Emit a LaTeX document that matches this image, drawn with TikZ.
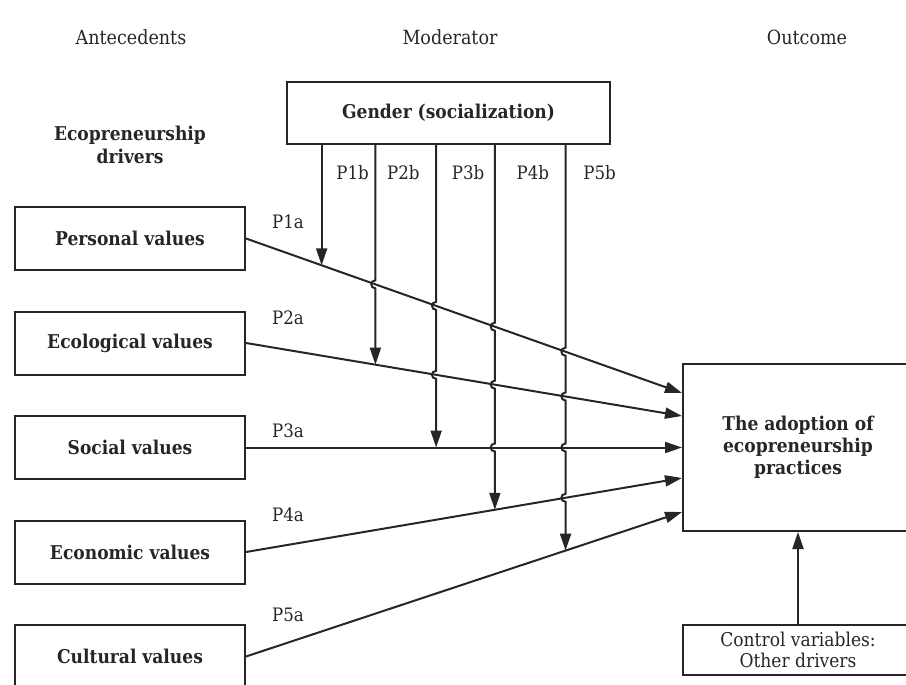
\documentclass[tikz,border=0pt]{standalone}
\usepackage{fontspec}
\setmainfont{DejaVu Serif Condensed}
\usetikzlibrary{positioning, arrows.meta, calc}

\begin{document}
\begin{tikzpicture}
    [
        x=1pt, y=-1pt, node distance=104.5pt and 22mm, on grid, text=black!85,
        font=\fontsize{19}{22}\selectfont,
        driver_node/.style={rectangle, draw=black!85, line width=2pt, minimum width=230pt, minimum height=63pt, font=\fontsize{19}{22}\selectfont\bfseries},
        gender_node/.style={rectangle, draw=black!85, line width=2pt, minimum width=323pt, minimum height=62pt, font=\fontsize{19}{22}\selectfont\bfseries},
        outcome_node/.style={rectangle, draw=black!85, line width=2pt, minimum width=230pt, minimum height=167pt, align=center, font=\fontsize{19}{22}\selectfont\bfseries},
        control_node/.style={rectangle, draw=black!85, line width=2pt, minimum width=230pt, minimum height=50pt, align=center, font=\fontsize{19}{21}\selectfont},
        head_text/.style={font=\fontsize{19.5}{22}\selectfont},
        p_label/.style={font=\fontsize{18.5}{22}\selectfont},
        flow/.style={-{Triangle[length=17pt, width=11pt]}, line width=2pt, draw=black!85},
        mod/.style={-{Triangle[length=17pt, width=11pt]}, line width=2pt, draw=black!85},
        hop/.style={insert path={-- ($(#1)+(0,-4)$) .. controls +(-5.5,0) and +(-5.5,0) .. ($(#1)+(0,4)$)}},
    ]
        \useasboundingbox (0,0) rectangle (906,685);
        % column heads
        \node[head_text] (antecedents) at (131,37) {Antecedents};
        \node[head_text] (moderator) at (450,37) {Moderator};
        \node[head_text] (outcome_head) at (807,37) {Outcome};
        \node[head_text, align=center, font=\fontsize{19}{23}\selectfont\bfseries] (drivers) at (130,144.5) {Ecopreneurship\\drivers};
        % boxes
        \node[driver_node] (personal) at (130,238.5) {Personal values};
        \node[driver_node] (ecological) [below = of personal] {Ecological values};
        \node[driver_node] (social) [below = of ecological] {Social values};
        \node[driver_node] (economic) [below = of social] {Economic values};
        \node[driver_node] (cultural) [below = of economic] {Cultural values};
        \node[gender_node] (gender) at (448.5,113) {Gender (socialization)};
        \node[outcome_node] (outcome) at (798,447.5) {The adoption of\\ecopreneurship\\practices};
        \node[control_node] (control) at (798,650) {Control variables:\\Other drivers};
        \coordinate (in1) at ($(outcome.west)+(0,-54.5)$);
        \coordinate (in2) at ($(outcome.west)+(0,-31.5)$);
        \coordinate (in3) at (outcome.west);
        \coordinate (in4) at ($(outcome.west)+(0,30.5)$);
        \coordinate (in5) at ($(outcome.west)+(0,64.5)$);
        % direct effects
        \draw[flow] (personal.east) -- coordinate[pos=0.1735] (m1) coordinate[pos=0.2968] (c12) coordinate[pos=0.4361] (c13) coordinate[pos=0.5708] (c14) coordinate[pos=0.7329] (c15) (in1);
        \draw[flow] (ecological.east) -- coordinate[pos=0.2968] (m2) coordinate[pos=0.4361] (c23) coordinate[pos=0.5708] (c24) coordinate[pos=0.7329] (c25) (in2);
        \draw[flow] (social.east) -- coordinate[pos=0.4361] (m3) coordinate[pos=0.5708] (c34) coordinate[pos=0.7329] (c35) (in3);
        \draw[flow] (economic.east) -- coordinate[pos=0.5708] (m4) coordinate[pos=0.7329] (c45) (in4);
        \draw[flow] (cultural.east) -- coordinate[pos=0.7329] (m5) (in5);
        \draw[flow] (control) -- (outcome);
        % moderating effects
        \draw[mod] (gender.south -| m1) -- (m1);
        \draw[mod] (gender.south -| m2) [hop=c12] -- (m2);
        \draw[mod] (gender.south -| m3) [hop=c13] [hop=c23] -- (m3);
        \draw[mod] (gender.south -| m4) [hop=c14] [hop=c24] [hop=c34] -- (m4);
        \draw[mod] (gender.south -| m5) [hop=c15] [hop=c25] [hop=c35] [hop=c45] -- (m5);
        % labels
        \node[p_label] (p1a) at ($(personal.east)+(42,-16.5)$) {P1a};
        \node[p_label] (p2a) at ($(ecological.east)+(42,-25)$) {P2a};
        \node[p_label] (p3a) at ($(social.east)+(42,-17)$) {P3a};
        \node[p_label] (p4a) at ($(economic.east)+(42,-37)$) {P4a};
        \node[p_label] (p5a) at ($(cultural.east)+(42,-42)$) {P5a};
        \node[p_label] (p1b) at ($(gender.south -| m1)+(31,28)$) {P1b};
        \node[p_label] (p2b) at ($(gender.south -| m2)+(28,28)$) {P2b};
        \node[p_label] (p3b) at ($(gender.south -| m3)+(32,28)$) {P3b};
        \node[p_label] (p4b) at ($(gender.south -| m4)+(38,28)$) {P4b};
        \node[p_label] (p5b) at ($(gender.south -| m5)+(34,28)$) {P5b};
    \end{tikzpicture}
\end{document}
